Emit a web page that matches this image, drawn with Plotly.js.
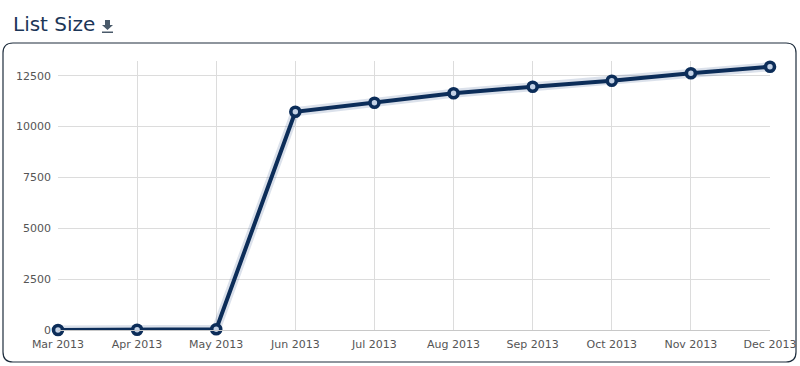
<!DOCTYPE html>
<html>
<head>
<meta charset="utf-8">
<script src="https://cdn.plot.ly/plotly-3.0.1.min.js"></script>
<style>html,body{margin:0;padding:0;background:#fff;}#chart{width:800px;height:366px;}</style>
</head>
<body>
<div id="chart"></div>
<script>
const months = ["Mar 2013","Apr 2013","May 2013","Jun 2013","Jul 2013","Aug 2013","Sep 2013","Oct 2013","Nov 2013","Dec 2013"];
const listSize = [0, 15, 40, 10730, 11175, 11640, 11960, 12255, 12620, 12945];
const yTicks = [0, 2500, 5000, 7500, 10000, 12500];

const W = 800, H = 366;
const L = 58, R = 30, T = 61, B = 36;
const pw = W - L - R, ph = H - T - B;
const px = v => (v - L) / pw;
const py = v => (H - B - v) / ph;

function roundRect(x0, y0, x1, y1, r) {
  const f = (x, y) => px(x) + ',' + py(y);
  return 'M' + f(x0 + r, y0) + ' L' + f(x1 - r, y0) + ' Q' + f(x1, y0) + ' ' + f(x1, y0 + r) +
    ' L' + f(x1, y1 - r) + ' Q' + f(x1, y1) + ' ' + f(x1 - r, y1) +
    ' L' + f(x0 + r, y1) + ' Q' + f(x0, y1) + ' ' + f(x0, y1 - r) +
    ' L' + f(x0, y0 + r) + ' Q' + f(x0, y0) + ' ' + f(x0 + r, y0) + ' Z';
}
function poly(pts) {
  return 'M' + pts.map(p => px(p[0]) + ',' + py(p[1])).join(' L') + ' Z';
}

const traces = [
  {
    x: months, y: listSize, type: 'scatter', mode: 'lines',
    line: {color: 'rgba(30,70,130,0.16)', width: 9},
    hoverinfo: 'skip', cliponaxis: false, showlegend: false
  },
  {
    x: months, y: listSize, type: 'scatter', mode: 'lines+markers',
    line: {color: '#0c2d59', width: 4},
    marker: {symbol: 'circle', size: 9, color: '#c4d2e6', line: {color: '#0c2d59', width: 3.6}},
    cliponaxis: false, showlegend: false, name: 'List Size'
  }
];

const layout = {
  width: W, height: H,
  margin: {l: L, r: R, t: T, b: B},
  paper_bgcolor: '#ffffff', plot_bgcolor: '#ffffff',
  font: {family: 'DejaVu Sans, Verdana, sans-serif', size: 11, color: '#555'},
  xaxis: {
    type: 'category', range: [0, months.length - 1],
    showgrid: true, gridcolor: '#dcdcdc', gridwidth: 1,
    showline: true, linecolor: '#c8c8c8', linewidth: 1,
    ticks: '', tickfont: {size: 11, color: '#555'},
    ticklabelstandoff: 4, fixedrange: true
  },
  yaxis: {
    range: [0, 13225], tickvals: yTicks, ticktext: yTicks.map(String),
    showgrid: true, gridcolor: '#dcdcdc', gridwidth: 1,
    zeroline: false, showline: false, ticks: '',
    tickfont: {size: 11, color: '#555'}, ticklabelstandoff: 6, fixedrange: true
  },
  annotations: [
    {
      text: 'List Size', xref: 'paper', yref: 'paper',
      x: px(11), y: py(24), xanchor: 'left', yanchor: 'middle',
      showarrow: false, font: {family: 'DejaVu Sans, Verdana, sans-serif', size: 20, color: '#1c3658'}
    }
  ],
  shapes: [
    {type: 'path', xref: 'paper', yref: 'paper', path: roundRect(3, 43, 796, 362, 10),
     line: {color: '#1e2d3d', width: 1.2}, fillcolor: 'rgba(0,0,0,0)', layer: 'below'},
    {type: 'path', xref: 'paper', yref: 'paper',
     path: poly([[105,20],[110,20],[110,25],[113,25],[107.5,30],[102,25],[105,25]]),
     line: {width: 0}, fillcolor: '#4a5a6a'},
    {type: 'rect', xref: 'paper', yref: 'paper', x0: px(102), x1: px(113), y0: py(33), y1: py(31.5),
     line: {width: 0}, fillcolor: '#4a5a6a'}
  ]
};

Plotly.newPlot('chart', traces, layout, {displayModeBar: false, staticPlot: true});
</script>
</body>
</html>
